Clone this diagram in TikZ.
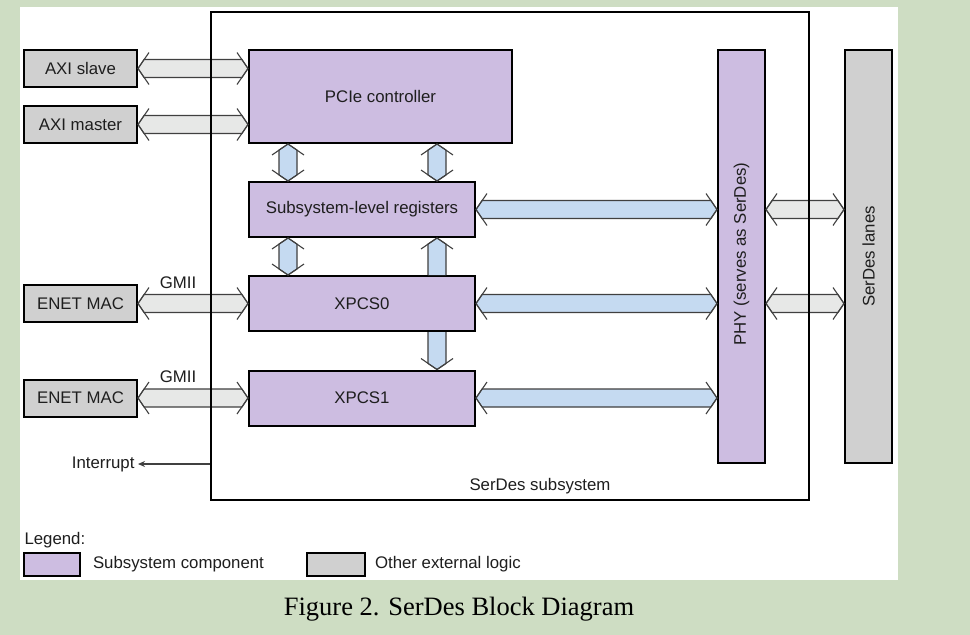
\documentclass[tikz,border=0pt]{standalone}
\usepackage{fontspec}
\setmainfont{Liberation Sans}
\newfontfamily\capfont{Liberation Serif}
\usetikzlibrary{calc,arrows.meta}

\definecolor{pagebg}{HTML}{CEDDC3}
\definecolor{sysfill}{HTML}{CDBDE1}
\definecolor{extfill}{HTML}{D0D0D0}
\definecolor{busgray}{HTML}{E7E8E7}
\definecolor{busblue}{HTML}{C5DAF1}
\definecolor{edge}{HTML}{404040}
\definecolor{txt}{HTML}{1E1E1E}

\tikzset{
  sysblk/.style={draw=black, line width=2, fill=sysfill, inner sep=0},
  extblk/.style={draw=black, line width=2, fill=extfill, inner sep=0},
  busline/.style={draw=edge, line width=1.1, line join=miter},
}

% fat bus arrow, heads at both ends: fill, from, to
\newcommand{\dbus}[3]{%
  \filldraw[busline, fill=#1] let \p1=(#2), \p2=(#3), \n1={atan2(\y2-\y1,\x2-\x1)}, \n2={veclen(\x2-\x1,\y2-\y1)} in
    {[shift={(\p1)}, rotate=\n1] (0,0) -- (6,9) -- (\n2-6,9) -- (\n2,0) -- (\n2-6,-9) -- (6,-9) -- cycle};
  \draw[busline] let \p1=(#2), \p2=(#3), \n1={atan2(\y2-\y1,\x2-\x1)}, \n2={veclen(\x2-\x1,\y2-\y1)} in
    {[shift={(\p1)}, rotate=\n1] (11,16) -- (0,0) -- (11,-16) (\n2-11,16) -- (\n2,0) -- (\n2-11,-16)};
}
% fat bus arrow, head at the end only
\newcommand{\sbus}[3]{%
  \filldraw[busline, fill=#1] let \p1=(#2), \p2=(#3), \n1={atan2(\y2-\y1,\x2-\x1)}, \n2={veclen(\x2-\x1,\y2-\y1)} in
    {[shift={(\p1)}, rotate=\n1] (0,9) -- (\n2-6,9) -- (\n2,0) -- (\n2-6,-9) -- (0,-9)};
  \draw[busline] let \p1=(#2), \p2=(#3), \n1={atan2(\y2-\y1,\x2-\x1)}, \n2={veclen(\x2-\x1,\y2-\y1)} in
    {[shift={(\p1)}, rotate=\n1] (\n2-11,16) -- (\n2,0) -- (\n2-11,-16)};
}

\begin{document}
\begin{tikzpicture}[x=1pt, y=-1pt, font=\fontsize{16.8}{20}\selectfont, text=txt]
  \fill[pagebg] (0,0) rectangle (970,635);
  \fill[white] (20,7) rectangle (898,580);

  % external logic
  \node[extblk, minimum width=113, minimum height=37] (axis) at (80.5,68.5) {AXI slave};
  \node[extblk, minimum width=113, minimum height=37] (axim) at (80.5,124.5) {AXI master};
  \node[extblk, minimum width=113, minimum height=37] (mac0) at (80.5,303.5) {ENET MAC};
  \node[extblk, minimum width=113, minimum height=37] (mac1) at (80.5,398) {ENET MAC};
  \node[extblk, minimum width=47, minimum height=413] (lanes) at (868.5,256.5) {};
  \node[rotate=90] (lanestxt) at (lanes) {SerDes lanes};

  % subsystem components
  \node[sysblk, minimum width=263, minimum height=93] (pcie) at (380.5,96.5) {PCIe controller};
  \node[sysblk, minimum width=226, minimum height=55] (regs) at (362,209.5) {Subsystem-level registers};
  \node[sysblk, minimum width=226, minimum height=55] (xpcs0) at (362,303.5) {XPCS0};
  \node[sysblk, minimum width=226, minimum height=55] (xpcs1) at (362,398) {XPCS1};
  \node[sysblk, minimum width=47, minimum height=413] (phy) at (741.5,256.5) {};
  \node[rotate=90] (phytxt) at (741.5,254) {PHY (serves as SerDes)};

  \node (gmii0) at (178,283) {GMII};
  \node (gmii1) at (178,377) {GMII};

  % buses
  \dbus{busgray}{axis.east}{pcie.west |- axis.east}
  \dbus{busgray}{axim.east}{pcie.west |- axim.east}
  \dbus{busgray}{mac0.east}{xpcs0.west |- mac0.east}
  \dbus{busgray}{mac1.east}{xpcs1.west |- mac1.east}
  \coordinate (cl) at (288,0);
  \coordinate (cr) at (437,0);
  \dbus{busblue}{cl |- pcie.south}{cl |- regs.north}
  \dbus{busblue}{cr |- pcie.south}{cr |- regs.north}
  \dbus{busblue}{cl |- regs.south}{cl |- xpcs0.north}
  \sbus{busblue}{cr |- xpcs0.north}{cr |- regs.south}
  \sbus{busblue}{cr |- xpcs0.south}{cr |- xpcs1.north}
  \dbus{busblue}{regs.east}{phy.west |- regs.east}
  \dbus{busblue}{xpcs0.east}{phy.west |- xpcs0.east}
  \dbus{busblue}{xpcs1.east}{phy.west |- xpcs1.east}
  \dbus{busgray}{phy.east |- regs.east}{lanes.west |- regs.east}
  \dbus{busgray}{phy.east |- xpcs0.east}{lanes.west |- xpcs0.east}

  % subsystem frame
  \node[draw=black, line width=2, minimum width=598, minimum height=488] (sub) at (510,256) {};
  \node (sublbl) at (540,486) {SerDes subsystem};
  \node[anchor=east] (irq) at (138,464) {Interrupt};
  \draw[edge, line width=1.1, -{Stealth[length=7, width=6]}] (sub.west |- irq.east) -- (irq.east);

  % legend
  \node[anchor=west] (legend) at (21,540) {Legend:};
  \node[sysblk, minimum width=56, minimum height=23] (keysys) at (52,564) {};
  \node[anchor=west] (keysystxt) at (89.5,564) {Subsystem component};
  \node[extblk, minimum width=58, minimum height=23] (keyext) at (335.5,564.5) {};
  \node[anchor=west] (keyexttxt) at (371.5,564) {Other external logic};

  \node[font=\capfont\fontsize{26.5}{30}\selectfont, text=black] (cap) at (459,609) {Figure 2. SerDes Block Diagram};
\end{tikzpicture}
\end{document}
